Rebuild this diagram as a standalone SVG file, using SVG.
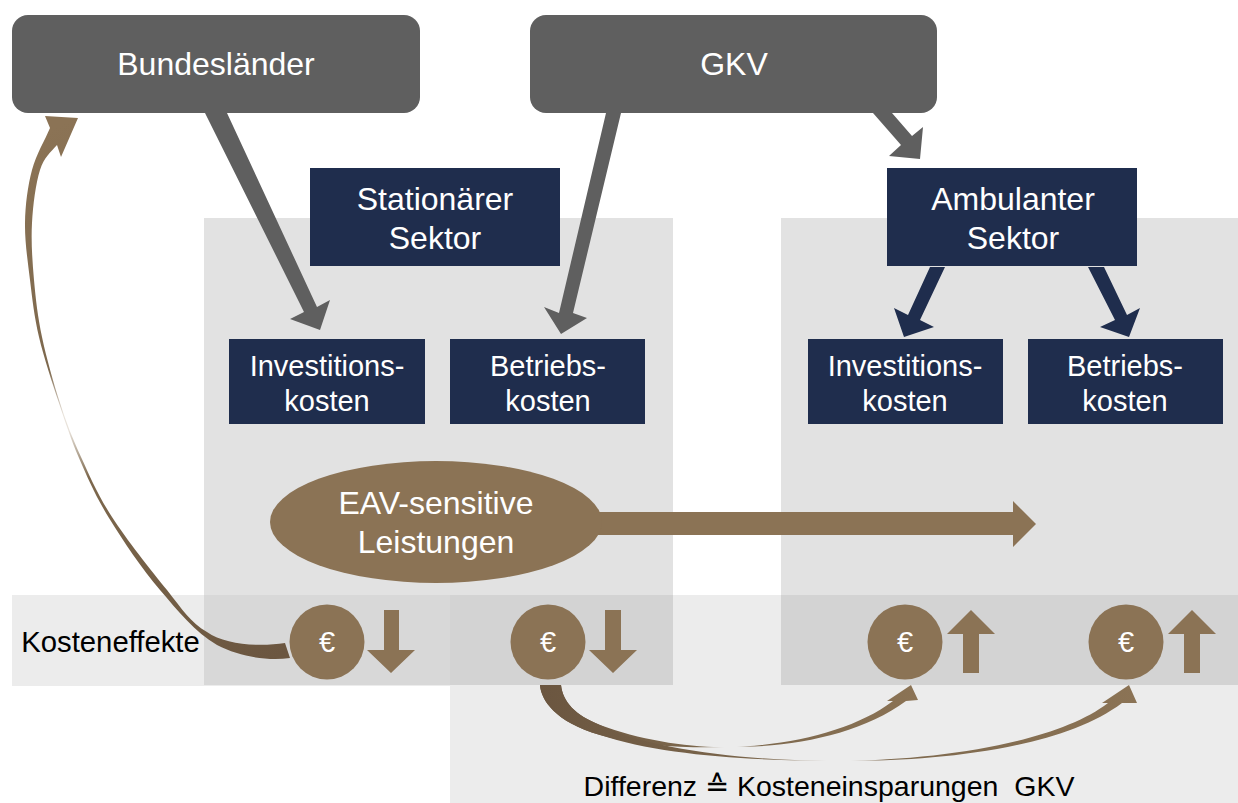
<svg xmlns="http://www.w3.org/2000/svg" width="1238" height="803" viewBox="0 0 1238 803">
<defs>
<linearGradient id="g1" gradientUnits="userSpaceOnUse" x1="290" y1="650" x2="50" y2="130"><stop offset="0" stop-color="#6b5640"/><stop offset="0.42" stop-color="#7d684d"/><stop offset="0.51" stop-color="#e8e2da"/><stop offset="0.54" stop-color="#e8e2da"/><stop offset="0.62" stop-color="#7d684d"/><stop offset="1" stop-color="#8b7355"/></linearGradient>
<linearGradient id="ga" gradientUnits="userSpaceOnUse" x1="540" y1="0" x2="918" y2="0"><stop offset="0" stop-color="#6b5640"/><stop offset="0.44" stop-color="#7d684d"/><stop offset="0.49" stop-color="#ececec"/><stop offset="0.52" stop-color="#ececec"/><stop offset="0.57" stop-color="#7d684d"/><stop offset="1" stop-color="#8b7355"/></linearGradient>
<linearGradient id="gb" gradientUnits="userSpaceOnUse" x1="540" y1="0" x2="1137" y2="0"><stop offset="0" stop-color="#6b5640"/><stop offset="0.42" stop-color="#7d684d"/><stop offset="0.48" stop-color="#ececec"/><stop offset="0.52" stop-color="#ececec"/><stop offset="0.58" stop-color="#7d684d"/><stop offset="1" stop-color="#8b7355"/></linearGradient>
</defs>
<style>
text{font-family:"Liberation Sans",Arial,sans-serif;text-anchor:middle}
.w{fill:#fff;font-size:32px}
.s{fill:#fff;font-size:29px}
.g{fill:#5f5f5f}
.n{fill:#1f2d4d}
.b{fill:#8b7355}
</style>
<rect width="1238" height="803" fill="#fff"/>
<g id="backgrounds">
<rect x="12" y="595" width="1226" height="91" fill="#ececec"/>
<rect x="450" y="686" width="788" height="117" fill="#ececec"/>
<rect x="204" y="218" width="469" height="467" fill="#e2e2e2"/>
<rect x="781" y="218" width="457" height="467" fill="#e2e2e2"/>
<rect x="204" y="595" width="469" height="90" fill="#d8d8d8"/>
<rect x="450" y="595" width="223" height="90" fill="#d3d3d3"/>
<rect x="781" y="595" width="457" height="90" fill="#d3d3d3"/>
</g>
<g id="connectors">
<path class="g" d="M205 113H227L317 307L330 300L320 330L290 319L304 312Z"/>
<path class="g" d="M606 113H621L573 313L587 318L561 334L544 307L559 313Z"/>
<path class="g" d="M873 113H892L912 136L923 127L920 159L889 156L901 145Z"/>
<path class="n" d="M930 267H945L920 320L934 327L904 337L894 308L908 315Z"/>
<path class="n" d="M1088 267H1104L1127 315L1140 308L1129 337L1100 327L1115 320Z"/>
<path class="b" d="M590 512H1013V501L1036 524L1013 547V535H590Z"/>
<path fill="url(#g1)" d="M290 658C268 661 240 657 217 645C195 632 178 611 160 590C142 569 122.500 540 109 518C95.500 496 87.300 477.200 79 458C70.700 438.800 65.700 423.200 59 403C52.300 382.800 43.800 357.500 39 337C34.200 316.500 32.300 299 30 280C27.700 261 24.700 241.300 25 223C25.300 204.700 27.800 185.800 32 170C36.200 154.200 45 140 50 128L45 116L78 118L61 157L57 145C50 153 44.200 157 40 170C35.800 183 33 204.700 32 223C31 241.300 32.300 261 34 280C35.700 299 37.700 316.500 42 337C46.300 357.500 53.500 383 60 403C66.500 423 72.300 438 81 457C89.700 476 97.700 494.800 112 517C126.300 539.200 151.200 570.800 167 590C182.800 610 190 622 207 632C225 645 260 647 285 643Z"/>
<path fill="url(#ga)" d="M540 685C541 700 555 722 600 735C640 747 690 748 727 747C790 748 860 735 906 701L918 700L911 685L887 701L893 701C855 730 790 746 727 747C690 748 640 740 600 725C575 715 563 702 561 685Z"/>
<path fill="url(#gb)" d="M540 685C541 700 555 722 600 735C660 755 750 761 840 761C930 762 1060 750 1122 703L1137 703L1129 685L1102 703L1108 703C1060 740 950 760 840 761C750 761 650 750 600 725C575 715 563 702 561 685Z"/>
<path class="b" d="M384 610H399V650H415L391 673L367 650H384Z"/>
<path class="b" d="M605 610H621V650H637L613 673L589 650H605Z"/>
<path class="b" d="M963 673H979V634H995L971 610L947 634H963Z"/>
<path class="b" d="M1184 673H1200V634H1216L1192 610L1168 634H1184Z"/>
</g>
<g id="bundeslaender"><rect x="12" y="15" width="408" height="98" rx="16" class="g"/><text class="w" x="216" y="75">Bundesländer</text></g>
<g id="gkv"><rect x="530" y="15" width="407" height="98" rx="16" class="g"/><text class="w" x="734" y="75">GKV</text></g>
<g id="stationaer"><rect x="310" y="168" width="250" height="98" class="n"/><text class="w" x="435" y="210">Stationärer</text><text class="w" x="435" y="249">Sektor</text></g>
<g id="ambulant"><rect x="887" y="168" width="250" height="98" class="n"/><text class="w" x="1013" y="210">Ambulanter</text><text class="w" x="1013" y="249">Sektor</text></g>
<g id="inv1"><rect x="229" y="339" width="196" height="85" class="n"/><text class="s" x="327" y="376">Investitions-</text><text class="s" x="327" y="411">kosten</text></g>
<g id="bet1"><rect x="450" y="339" width="195" height="85" class="n"/><text class="s" x="548" y="376">Betriebs-</text><text class="s" x="548" y="411">kosten</text></g>
<g id="inv2"><rect x="808" y="339" width="195" height="85" class="n"/><text class="s" x="905" y="376">Investitions-</text><text class="s" x="905" y="411">kosten</text></g>
<g id="bet2"><rect x="1028" y="339" width="195" height="85" class="n"/><text class="s" x="1125" y="376">Betriebs-</text><text class="s" x="1125" y="411">kosten</text></g>
<g id="eav"><ellipse cx="436" cy="522" rx="166" ry="61" class="b"/><text class="w" x="436" y="514">EAV-sensitive</text><text class="w" x="436" y="553">Leistungen</text></g>
<g id="e1"><circle cx="327" cy="642" r="37.500" class="b"/><text class="s" x="327" y="652">€</text></g>
<g id="e2"><circle cx="548" cy="642" r="37.500" class="b"/><text class="s" x="548" y="652">€</text></g>
<g id="e3"><circle cx="905" cy="642" r="37.500" class="b"/><text class="s" x="905" y="652">€</text></g>
<g id="e4"><circle cx="1126" cy="642" r="37.500" class="b"/><text class="s" x="1126" y="652">€</text></g>
<text x="110.500" y="652" font-size="29.300" fill="#000">Kosteneffekte</text>
<text x="829" y="796" font-size="28.500" fill="#000" xml:space="preserve">Differenz ≙ Kosteneinsparungen  GKV</text>
</svg>
